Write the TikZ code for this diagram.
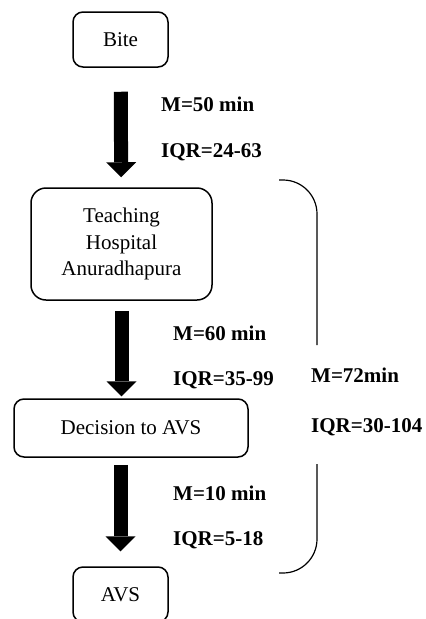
\documentclass[tikz,border=0pt]{standalone}
\usepackage{fontspec}
\setmainfont{Liberation Serif}
\usetikzlibrary{arrows.meta}
\tikzset{
    flow-box/.style = {draw=black, fill=white, line width=1.5pt, rectangle, rounded corners=10pt, inner sep=0pt, align=center, font=\fontsize{21}{26.5}\selectfont},
    flow-arrow/.style = {line width=14pt, -{Triangle[width=30pt, length=15pt, line width=0pt]}},
    time-label/.style = {anchor=base west, inner sep=0pt, font=\fontsize{21}{25}\selectfont\bfseries},
    total-brace/.style = {line width=1.2pt, rounded corners=34pt},
}
\begin{document}
\begin{tikzpicture}[x=1pt, y=-1pt]
\useasboundingbox (0,0) rectangle (426,619);
\node[flow-box, minimum width=95pt, minimum height=55pt] (bite) at (120.5,39.5) {Bite};
\node[flow-box, minimum width=181pt, minimum height=112pt, rounded corners=15pt] (hospital) at (121.5,244) {Teaching\\Hospital\\Anuradhapura};
\node[flow-box, minimum width=234pt, minimum height=58pt] (decision) at (131,428) {Decision to AVS};
\node[flow-box, minimum width=95pt, minimum height=55pt] (avs) at (120.5,594.5) {AVS};

\draw[flow-arrow, shorten <=24pt, shorten >=10pt] (bite) -- (hospital);
\draw[flow-arrow, shorten <=10pt, shorten >=2pt] (hospital.south) -- (hospital.south |- decision.north);
\draw[flow-arrow, shorten <=7pt, shorten >=15pt] (decision.south -| avs.north) -- (avs.north);

\node[time-label] (m-bite) at (161,111) {M=50 min};
\node[time-label] (iqr-bite) at (161,157) {IQR=24-63};
\node[time-label] (m-hospital) at (173,340) {M=60 min};
\node[time-label] (iqr-hospital) at (173,385) {IQR=35-99};
\node[time-label] (m-decision) at (173,500) {M=10 min};
\node[time-label] (iqr-decision) at (173,545) {IQR=5-18};
\node[time-label] (m-total) at (311,382) {M=72min};
\node[time-label] (iqr-total) at (311,432) {IQR=30-104};

\draw[total-brace] (279,180) -| (317,345);
\draw[total-brace] (317,464) |- (279,573);
\end{tikzpicture}
\end{document}
